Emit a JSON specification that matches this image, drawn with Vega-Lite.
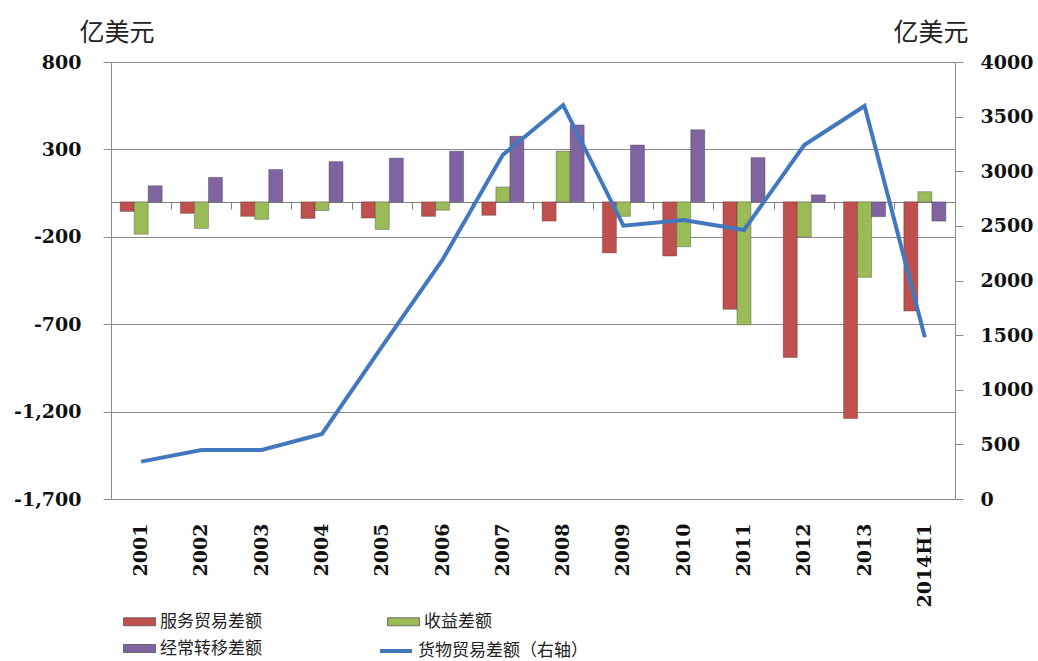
{
  "$schema": "https://vega.github.io/schema/vega-lite/v6.json",
  "width": 844,
  "height": 437,
  "autosize": "none",
  "padding": {"left": 111, "top": 62, "right": 83, "bottom": 162},
  "background": "white",
  "config": {"view": {"stroke": null}},
  "datasets": {
    "bars": [
      {"year": "2001", "series": "服务贸易差额", "value": -55},
      {"year": "2001", "series": "收益差额", "value": -185},
      {"year": "2001", "series": "经常转移差额", "value": 92},
      {"year": "2002", "series": "服务贸易差额", "value": -66},
      {"year": "2002", "series": "收益差额", "value": -152},
      {"year": "2002", "series": "经常转移差额", "value": 140},
      {"year": "2003", "series": "服务贸易差额", "value": -83},
      {"year": "2003", "series": "收益差额", "value": -100},
      {"year": "2003", "series": "经常转移差额", "value": 185},
      {"year": "2004", "series": "服务贸易差额", "value": -95},
      {"year": "2004", "series": "收益差额", "value": -50},
      {"year": "2004", "series": "经常转移差额", "value": 230},
      {"year": "2005", "series": "服务贸易差额", "value": -93},
      {"year": "2005", "series": "收益差额", "value": -158},
      {"year": "2005", "series": "经常转移差额", "value": 250},
      {"year": "2006", "series": "服务贸易差额", "value": -83},
      {"year": "2006", "series": "收益差额", "value": -48},
      {"year": "2006", "series": "经常转移差额", "value": 290},
      {"year": "2007", "series": "服务贸易差额", "value": -77},
      {"year": "2007", "series": "收益差额", "value": 85},
      {"year": "2007", "series": "经常转移差额", "value": 375},
      {"year": "2008", "series": "服务贸易差额", "value": -110},
      {"year": "2008", "series": "收益差额", "value": 290},
      {"year": "2008", "series": "经常转移差额", "value": 440},
      {"year": "2009", "series": "服务贸易差额", "value": -292},
      {"year": "2009", "series": "收益差额", "value": -83},
      {"year": "2009", "series": "经常转移差额", "value": 325},
      {"year": "2010", "series": "服务贸易差额", "value": -310},
      {"year": "2010", "series": "收益差额", "value": -257},
      {"year": "2010", "series": "经常转移差额", "value": 412},
      {"year": "2011", "series": "服务贸易差额", "value": -615},
      {"year": "2011", "series": "收益差额", "value": -704},
      {"year": "2011", "series": "经常转移差额", "value": 253},
      {"year": "2012", "series": "服务贸易差额", "value": -890},
      {"year": "2012", "series": "收益差额", "value": -200},
      {"year": "2012", "series": "经常转移差额", "value": 40},
      {"year": "2013", "series": "服务贸易差额", "value": -1240},
      {"year": "2013", "series": "收益差额", "value": -432},
      {"year": "2013", "series": "经常转移差额", "value": -85},
      {"year": "2014H1", "series": "服务贸易差额", "value": -625},
      {"year": "2014H1", "series": "收益差额", "value": 58},
      {"year": "2014H1", "series": "经常转移差额", "value": -110}
    ],
    "goods": [
      {"year": "2001", "goods": 342},
      {"year": "2002", "goods": 449},
      {"year": "2003", "goods": 449},
      {"year": "2004", "goods": 595},
      {"year": "2005", "goods": 1400},
      {"year": "2006", "goods": 2190},
      {"year": "2007", "goods": 3150},
      {"year": "2008", "goods": 3606},
      {"year": "2009", "goods": 2502},
      {"year": "2010", "goods": 2554},
      {"year": "2011", "goods": 2462},
      {"year": "2012", "goods": 3240},
      {"year": "2013", "goods": 3597},
      {"year": "2014H1", "goods": 1480}
    ]
  },
  "layer": [
    {
      "data": {"name": "bars"},
      "mark": {"type": "bar", "stroke": "#333333", "strokeOpacity": 0.45, "strokeWidth": 0.8},
      "encoding": {
        "x": {
          "field": "year", "type": "nominal", "sort": null,
          "scale": {"paddingInner": 0, "paddingOuter": 0},
          "axis": {
            "orient": "bottom", "title": null, "labelAngle": -90, "labelAlign": "right",
            "labelBaseline": "middle", "labelPadding": 24, "ticks": false, "domain": false,
            "labelFont": "DejaVu Serif", "labelFontWeight": "bold", "labelFontSize": 19, "labelColor": "#111111"
          }
        },
        "xOffset": {
          "field": "series", "type": "nominal", "sort": ["服务贸易差额", "收益差额", "经常转移差额"],
          "scale": {"paddingOuter": 0.65, "paddingInner": 0}
        },
        "y": {
          "field": "value", "type": "quantitative",
          "scale": {"domain": [-1700, 800], "nice": false, "zero": false},
          "axis": {
            "orient": "left", "values": [800, 300, -200, -700, -1200, -1700],
            "labelExpr": "datum.value < 0 ? '-' + format(-datum.value, ',') : format(datum.value, ',')",
            "grid": true, "gridColor": "#8c8c8c", "gridWidth": 1.2, "domainColor": "#8c8c8c", "tickColor": "#8c8c8c",
            "tickSize": 8, "labelPadding": 22, "labelFont": "DejaVu Serif", "labelFontWeight": "bold",
            "labelFontSize": 19, "labelColor": "#111111",
            "title": "亿美元", "titleAngle": 0, "titleAlign": "left", "titleBaseline": "alphabetic",
            "titleX": -32, "titleY": -22, "titleFont": "Noto Sans CJK SC", "titleFontWeight": "normal",
            "titleFontSize": 25, "titleColor": "#222222"
          }
        },
        "color": {
          "field": "series", "type": "nominal",
          "scale": {"domain": ["服务贸易差额", "经常转移差额", "收益差额"], "range": ["#c0504d", "#8064a2", "#9bbb59"]},
          "legend": {
            "orient": "none", "legendX": 18, "legendY": 549, "columns": 2, "title": null,
            "symbolType": "M-1.6,-0.4H1.6V0.4H-1.6Z", "symbolSize": 400, "symbolStrokeColor": "#555555",
            "symbolStrokeWidth": 0.8, "symbolOpacity": 1, "labelFont": "Noto Sans CJK SC", "labelFontSize": 17,
            "labelOffset": 10, "columnPadding": 123, "rowPadding": 8, "labelColor": "#222222", "padding": 0,
            "labelLimit": 300
          }
        }
      }
    },
    {
      "data": {"name": "bars"},
      "mark": {"type": "rule", "opacity": 0},
      "encoding": {
        "x": {
          "field": "year", "type": "nominal", "sort": null,
          "axis": {
            "orient": "bottom", "offset": -297, "labels": false, "title": null, "grid": false,
            "domain": true, "domainColor": "#7f7f7f", "domainWidth": 1.2, "ticks": true, "tickSize": 7,
            "tickColor": "#7f7f7f", "bandPosition": 0
          }
        }
      }
    },
    {
      "data": {"name": "goods"},
      "mark": {"type": "line", "strokeWidth": 4, "strokeJoin": "miter"},
      "encoding": {
        "x": {"field": "year", "type": "nominal", "sort": null, "axis": null},
        "y": {
          "field": "goods", "type": "quantitative",
          "scale": {"domain": [0, 4000], "nice": false},
          "axis": {
            "orient": "right", "values": [0, 500, 1000, 1500, 2000, 2500, 3000, 3500, 4000], "format": "d",
            "grid": false, "domainColor": "#8c8c8c", "tickColor": "#8c8c8c", "tickSize": 8, "labelPadding": 17,
            "labelFont": "DejaVu Serif", "labelFontWeight": "bold", "labelFontSize": 19, "labelColor": "#111111",
            "title": "亿美元", "titleAngle": 0, "titleAlign": "left", "titleBaseline": "alphabetic",
            "titleX": -62, "titleY": -22, "titleFont": "Noto Sans CJK SC", "titleFontWeight": "normal",
            "titleFontSize": 25, "titleColor": "#222222"
          }
        },
        "stroke": {
          "datum": "货物贸易差额（右轴）", "type": "nominal",
          "scale": {"domain": ["货物贸易差额（右轴）"], "range": ["#4178be"]},
          "legend": {
            "orient": "none", "legendX": 273, "legendY": 577, "title": null,
            "symbolType": "M-1.6,0H1.6", "symbolSize": 400, "symbolStrokeWidth": 4,
            "labelFont": "Noto Sans CJK SC", "labelFontSize": 17, "labelOffset": 10,
            "labelColor": "#222222", "padding": 0, "labelLimit": 300
          }
        }
      }
    }
  ],
  "resolve": {"scale": {"y": "independent"}, "axis": {"x": "independent"}}
}
